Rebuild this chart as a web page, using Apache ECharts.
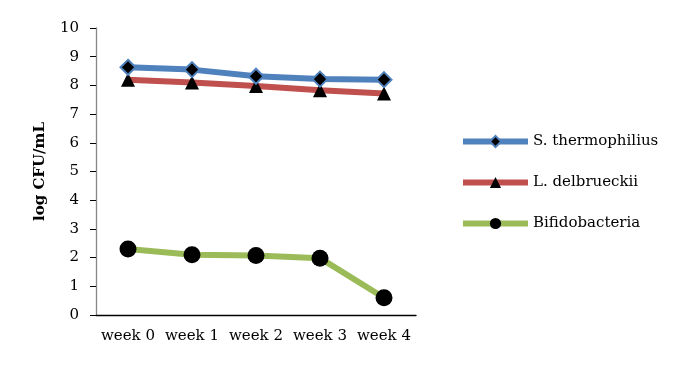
<!DOCTYPE html>
<html><head><meta charset="utf-8">
<script src="https://cdn.jsdelivr.net/npm/echarts@6/dist/echarts.min.js"></script>
<style>html,body{margin:0;padding:0;background:#fff}#c{width:679px;height:365px}</style>
</head><body><div id="c"></div>
<script>
const categories = ['week 0', 'week 1', 'week 2', 'week 3', 'week 4'];
const sThermophilius = [8.63, 8.55, 8.32, 8.22, 8.2];
const lDelbrueckii = [8.2, 8.1, 7.98, 7.83, 7.72];
const bifidobacteria = [2.3, 2.1, 2.07, 1.98, 0.6];
const yTicks = [0, 10, 1];

const font = 'DejaVu Serif';
const chart = echarts.init(document.getElementById('c'));
chart.setOption({
  animation: false,
  textStyle: { fontFamily: font },
  grid: { left: 96, right: 263, top: 28, bottom: 50, containLabel: false },
  legend: {
    orient: 'vertical', left: 460, top: 134, padding: 0,
    itemWidth: 65, itemHeight: 14, itemGap: 26,
    lineStyle: { width: 6 },
    textStyle: { fontFamily: font, fontSize: 15, color: '#000' },
    data: ['S. thermophilius', 'L. delbrueckii', 'Bifidobacteria']
  },
  xAxis: {
    type: 'category', data: categories, boundaryGap: true,
    axisLine: { lineStyle: { color: '#000', width: 1.3 } },
    axisTick: { show: false },
    axisLabel: { color: '#000', fontFamily: font, fontSize: 15, margin: 14, interval: 0 }
  },
  yAxis: {
    type: 'value', min: yTicks[0], max: yTicks[1], interval: yTicks[2],
    name: 'log CFU/mL', nameLocation: 'middle', nameGap: 48, nameRotate: 90,
    nameTextStyle: { fontFamily: font, fontSize: 15, fontWeight: 'bold', color: '#000' },
    axisLine: { show: true, lineStyle: { color: '#868686', width: 1.3 } },
    axisTick: { show: true, inside: false, length: 6, lineStyle: { color: '#000' } },
    splitLine: { show: false },
    axisLabel: { color: '#000', fontFamily: font, fontSize: 15, margin: 17 }
  },
  series: [
    { name: 'S. thermophilius', type: 'line', data: sThermophilius, z: 3,
      lineStyle: { color: '#4F81BD', width: 6 }, itemStyle: { color: '#000', borderColor: '#4F81BD', borderWidth: 2 },
      symbol: 'diamond', symbolSize: 15 },
    { name: 'L. delbrueckii', type: 'line', data: lDelbrueckii, z: 2,
      lineStyle: { color: '#C0504D', width: 6 }, itemStyle: { color: '#000' },
      symbol: 'triangle', symbolSize: 14 },
    { name: 'Bifidobacteria', type: 'line', data: bifidobacteria,
      lineStyle: { color: '#9BBB59', width: 6 }, itemStyle: { color: '#000' },
      symbol: 'circle', symbolSize: 17 }
  ]
});
</script></body></html>
